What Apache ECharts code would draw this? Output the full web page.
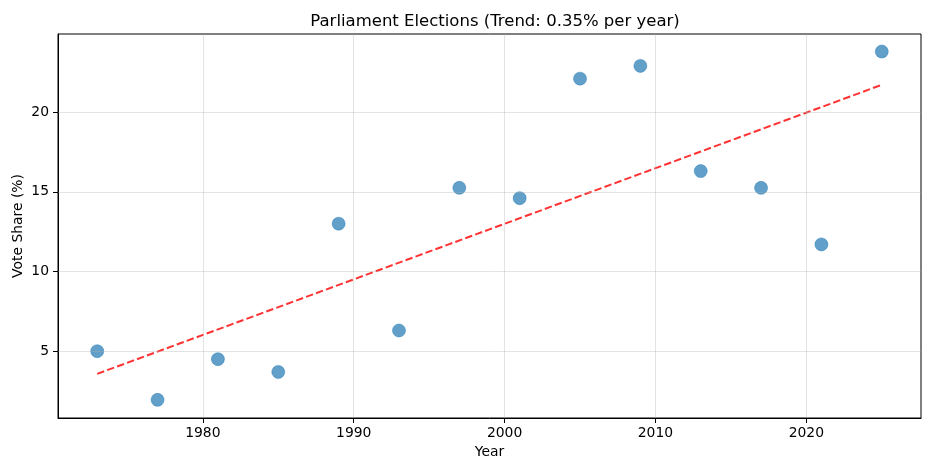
<!DOCTYPE html>
<html>
<head>
<meta charset="utf-8">
<script src="https://cdn.jsdelivr.net/npm/echarts@6/dist/echarts.min.js"></script>
<style>
html,body{margin:0;padding:0;background:#fff;}
#chart{width:928px;height:458px;}
</style>
</head>
<body>
<div id="chart"></div>
<script>
const years = [1973, 1977, 1981, 1985, 1989, 1993, 1997, 2001, 2005, 2009, 2013, 2017, 2021, 2025];
const voteShare = [5.0, 1.95, 4.5, 3.7, 13.0, 6.3, 15.25, 14.6, 22.1, 22.9, 16.3, 15.25, 11.7, 23.8];
const trendYears = [1973, 2025];
const trendValues = [3.58, 21.71];
const xTicks = [1980, 1990, 2000, 2010, 2020];
const yTicks = [5, 10, 15, 20];
const titleText = 'Parliament Elections (Trend: 0.35% per year)';

const font = 'DejaVu Sans';
const chart = echarts.init(document.getElementById('chart'), null, {renderer: 'canvas'});

const gridMarks = [];
xTicks.forEach(v => gridMarks.push({xAxis: v}));
yTicks.forEach(v => gridMarks.push({yAxis: v}));

chart.setOption({
  backgroundColor: '#ffffff',
  animation: false,
  title: {
    text: titleText,
    left: 490,
    top: 8,
    textAlign: 'center',
    textStyle: {fontFamily: font, fontSize: 16.5, fontWeight: 'normal', color: '#000'}
  },
  grid: {
    left: 58, right: 7, top: 34, bottom: 40,
    containLabel: false,
    outerBoundsMode: 'none',
    show: true, borderColor: '#000', borderWidth: 1, backgroundColor: 'transparent'
  },
  xAxis: {
    type: 'value',
    min: 1970.4, max: 2027.6,
    name: 'Year',
    nameLocation: 'middle',
    nameGap: 27.5,
    nameTextStyle: {fontFamily: font, fontSize: 13.9, color: '#000'},
    axisLine: {show: true, lineStyle: {color: '#000', width: 1}},
    axisTick: {show: true, length: 5, customValues: xTicks, lineStyle: {color: '#000'}},
    axisLabel: {customValues: xTicks, fontFamily: font, fontSize: 13.9, color: '#000', margin: 8, formatter: v => String(v)},
    splitLine: {show: false}
  },
  yAxis: {
    type: 'value',
    min: 0.81, max: 24.9,
    name: 'Vote Share (%)',
    nameLocation: 'middle',
    nameGap: 33,
    nameRotate: 90,
    nameMoveOverlap: false,
    nameTextStyle: {fontFamily: font, fontSize: 13.9, color: '#000'},
    axisLine: {show: true, lineStyle: {color: '#000', width: 1}},
    axisTick: {show: true, length: 5, customValues: yTicks, lineStyle: {color: '#000'}},
    axisLabel: {customValues: yTicks, fontFamily: font, fontSize: 13.9, color: '#000', margin: 9, formatter: v => String(v)},
    splitLine: {show: false}
  },
  series: [
    {
      type: 'line',
      data: [],
      silent: true,
      z: 1,
      markLine: {
        silent: true,
        symbol: 'none',
        label: {show: false},
        lineStyle: {color: 'rgba(176,176,176,0.35)', width: 1, type: 'solid'},
        emphasis: {disabled: true},
        data: gridMarks
      }
    },
    {
      type: 'scatter',
      z: 2,
      data: years.map((y, i) => [y, voteShare[i]]),
      symbol: 'circle',
      symbolSize: 13,
      itemStyle: {color: 'rgba(31,119,180,0.7)', borderColor: 'rgba(31,119,180,0.45)', borderWidth: 1, opacity: 1}
    },
    {
      type: 'line',
      z: 3,
      data: trendYears.map((y, i) => [y, trendValues[i]]),
      symbol: 'none',
      silent: true,
      lineStyle: {color: 'rgba(255,0,0,0.8)', width: 2, type: [7.4, 3.2]}
    }
  ]
});
</script>
</body>
</html>
